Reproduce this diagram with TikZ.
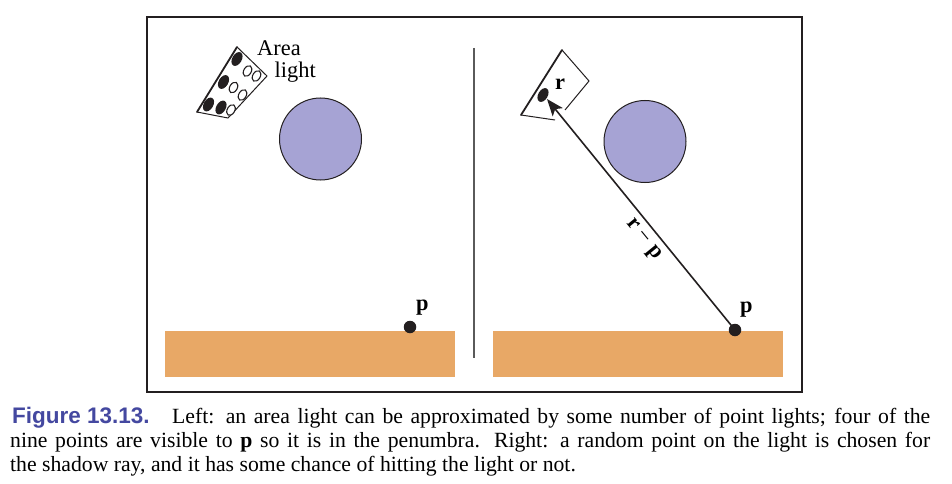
\documentclass[tikz,border=0pt]{standalone}
\usepackage{fontspec}
\setmainfont{Liberation Serif}
\newfontfamily\figsans{Liberation Sans}
\usetikzlibrary{shapes.geometric,arrows.meta}
\definecolor{framec}{RGB}{35,31,32}
\definecolor{floorc}{RGB}{232,168,102}
\definecolor{ballc}{RGB}{166,163,212}
\definecolor{capblue}{RGB}{68,72,160}
\definecolor{divc}{RGB}{90,90,90}
\begin{document}
\begin{tikzpicture}[x=1pt,y=-1pt,
  frame/.style={draw=framec, line width=2.2pt},
  ball/.style={circle, fill=ballc, draw=framec, line width=1pt, inner sep=0, minimum size=82pt},
  dotpt/.style={circle, fill=framec, inner sep=0, minimum size=12.5pt},
  fdot/.style={ellipse, fill=framec, inner sep=0, minimum width=15pt, minimum height=9.5pt, rotate=60},
  odot/.style={ellipse, draw=framec, fill=white, line width=1.1pt, inner sep=0, minimum width=11.5pt, minimum height=7.5pt, rotate=60},
  thickedge/.style={draw=framec, line width=1.8pt, line cap=round},
  thinedge/.style={draw=framec, line width=1pt},
  lbl/.style={inner sep=0, anchor=base west, font=\fontsize{22.4}{24}\selectfont},
  captext/.style={inner sep=0, anchor=base west, font=\fontsize{21.7}{24}\selectfont}]
\useasboundingbox (0,0) rectangle (952,484);
\fill[white] (0,0) rectangle (952,484);
% frame
\draw[frame] (147,17) rectangle (802,392);
% floors
\fill[floorc] (165,331) rectangle (455,377);
\fill[floorc] (493,331) rectangle (783,377);
% divider
\draw[divc, line width=1.2pt] (474,48) -- (474,358);
% spheres
\node[ball] (ballL) at (320.5,139) {};
\node[ball] (ballR) at (645,141.5) {};
% left area light
\coordinate (LA) at (237,47);
\coordinate (LB) at (267,76);
\coordinate (LC) at (228,118);
\coordinate (LD) at (197,112);
\draw[thinedge] (LA) -- (LB) -- (LC) -- (LD);
\draw[thickedge] (LD) -- (LA);
\node[fdot] (f1) at (237,59) {};
\node[fdot] (f2) at (223.5,82) {};
\node[fdot] (f3) at (208.5,104.5) {};
\node[fdot] (f4) at (221,107.5) {};
\node[odot] (o1) at (247.5,71) {};
\node[odot] (o2) at (256.5,76) {};
\node[odot] (o3) at (233.5,87.5) {};
\node[odot] (o4) at (242.5,95) {};
\node[odot] (o5) at (231,110) {};
\node[lbl] (area) at (257,56) {Area};
\node[lbl] (light) at (274.5,78) {light};
% left point p
\node[dotpt] (pL) at (410,327) {};
\node[lbl, font=\fontsize{22.4}{24}\selectfont\bfseries] (pLlab) at (416,310) {p};
% right light
\coordinate (RA) at (562,50);
\coordinate (RB) at (589,81);
\coordinate (RC1) at (565,110);
\coordinate (RD) at (521,115);
\coordinate (RC2) at (555,120);
\draw[thinedge] (RC1) -- (RB) -- (RA);
\draw[thickedge] (RA) -- (RD);
\draw[thinedge] (RD) -- (RC2);
\node[fdot] (rdot) at (543,95) {};
\node[lbl, font=\fontsize{22.4}{24}\selectfont\bfseries] (rlab) at (555,90) {r};
% right point p and shadow ray
\coordinate (rtip) at (547,99);
\node[dotpt] (pR) at (735,330) {};
\draw[draw=framec, line width=1.6pt, -{Stealth[length=17pt, width=13pt, inset=4pt]}] (pR.center) -- (rtip);
\node[lbl, font=\fontsize{22.4}{24}\selectfont\bfseries] (pRlab) at (740,312) {p};
\node[inner sep=0, font=\fontsize{22.4}{24}\selectfont, rotate=-50.7] (rp) at (643,240) {\textbf{r} − \textbf{p}};
% caption
\node[captext, font=\figsans\bfseries\fontsize{22.5}{24}\selectfont, text=capblue] (fig) at (12,423) {Figure 13.13.};
\node[captext] (c1) at (172,423) {\makebox[758pt][s]{Left: an area light can be approximated by some number of point lights; four of the}};
\node[captext] (c2) at (10,447) {\makebox[920pt][s]{nine points are visible to \textbf{p} so it is in the penumbra. Right: a random point on the light is chosen for}};
\node[captext] (c3) at (10,471) {the shadow ray, and it has some chance of hitting the light or not.};
\end{tikzpicture}
\end{document}
